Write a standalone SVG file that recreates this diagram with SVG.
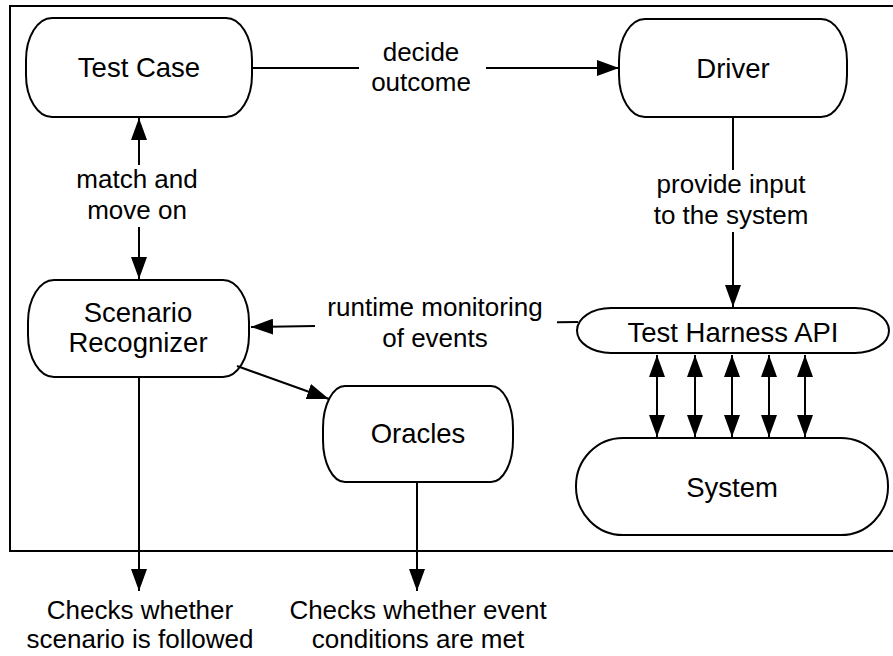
<svg xmlns="http://www.w3.org/2000/svg" width="893" height="656" viewBox="0 0 893 656">
  <style>
    .node { fill: #ffffff; stroke: #000000; stroke-width: 2; }
    .ntext { font-family: "Liberation Sans", Arial, Helvetica, sans-serif; font-size: 27.5px; fill: #000000; text-anchor: middle; }
    .ltext { font-family: "Liberation Sans", Arial, Helvetica, sans-serif; font-size: 26px; fill: #000000; text-anchor: middle; }
    .edge { fill: none; stroke: #000000; stroke-width: 2; }
    .arrow { marker-end: url(#head); }
    .both { marker-start: url(#head); marker-end: url(#head); }
  </style>
  <defs>
    <marker id="head" markerUnits="userSpaceOnUse" markerWidth="22" markerHeight="16" refX="22" refY="8" orient="auto-start-reverse" viewBox="0 0 22 16">
      <path d="M0,0 L22,8 L0,16 Z" fill="#000000"/>
    </marker>
  </defs>
  <rect width="893" height="656" fill="#ffffff"/>
  <rect id="frame" x="10" y="6" width="895" height="545" fill="none" stroke="#000000" stroke-width="2"/>

  <g id="test-case">
    <rect class="node" x="26" y="18" width="226" height="99" rx="26" ry="42"/>
    <text class="ntext" x="139" y="77">Test Case</text>
  </g>
  <g id="driver">
    <rect class="node" x="619" y="19" width="228" height="98" rx="26" ry="42"/>
    <text class="ntext" x="733" y="78">Driver</text>
  </g>
  <g id="scenario-recognizer">
    <rect class="node" x="28" y="280" width="221" height="97" rx="26" ry="42"/>
    <text class="ntext" x="138" y="322">Scenario</text>
    <text class="ntext" x="138" y="352">Recognizer</text>
  </g>
  <g id="test-harness-api">
    <rect class="node" x="577" y="308" width="312" height="45" rx="34" ry="22.5"/>
    <text class="ntext" x="733" y="342">Test Harness API</text>
  </g>
  <g id="oracles">
    <rect class="node" x="323" y="386" width="190" height="96" rx="22" ry="42"/>
    <text class="ntext" x="418" y="443">Oracles</text>
  </g>
  <g id="system">
    <rect class="node" x="576" y="438" width="312" height="97" rx="47" ry="48"/>
    <text class="ntext" x="732" y="497">System</text>
  </g>

  <g id="connectors">
    <line class="edge" x1="252" y1="68" x2="359" y2="68"/>
    <line class="edge arrow" x1="486" y1="68" x2="619" y2="68"/>
    <text class="ltext" x="421" y="61">decide</text>
    <text class="ltext" x="421" y="91">outcome</text>

    <line class="edge arrow" x1="139" y1="165" x2="139" y2="118"/>
    <line class="edge arrow" x1="139" y1="227" x2="139" y2="279"/>
    <text class="ltext" x="137" y="188">match and</text>
    <text class="ltext" x="137" y="219">move on</text>

    <line class="edge" x1="733" y1="117" x2="733" y2="170"/>
    <line class="edge arrow" x1="733" y1="232" x2="733" y2="307"/>
    <text class="ltext" x="731" y="193">provide input</text>
    <text class="ltext" x="731" y="224">to the system</text>

    <line class="edge" x1="578" y1="322" x2="557" y2="322.3"/>
    <line class="edge arrow" x1="315" y1="326" x2="251" y2="327"/>
    <text class="ltext" x="435" y="316">runtime monitoring</text>
    <text class="ltext" x="435" y="347">of events</text>

    <line class="edge arrow" x1="237" y1="366" x2="329" y2="399"/>

    <line class="edge both" x1="657" y1="355" x2="657" y2="437"/>
    <line class="edge both" x1="695" y1="355" x2="695" y2="437"/>
    <line class="edge both" x1="732" y1="355" x2="732" y2="437"/>
    <line class="edge both" x1="769" y1="355" x2="769" y2="437"/>
    <line class="edge both" x1="805" y1="355" x2="805" y2="437"/>

    <line class="edge arrow" x1="139" y1="377" x2="139" y2="591"/>
    <line class="edge arrow" x1="417" y1="482" x2="417" y2="591"/>
  </g>

  <g id="outputs">
    <text class="ltext" x="140" y="619">Checks whether</text>
    <text class="ltext" x="140" y="648">scenario is followed</text>
    <text class="ltext" x="418" y="619">Checks whether event</text>
    <text class="ltext" x="418" y="648">conditions are met</text>
  </g>
</svg>
